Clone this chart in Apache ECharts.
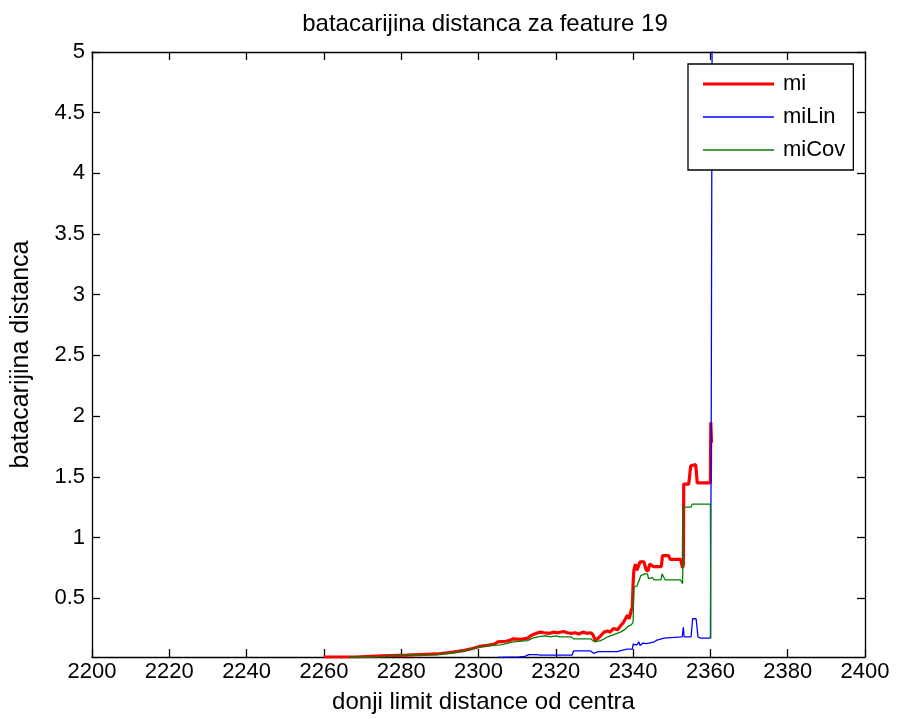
<!DOCTYPE html>
<html>
<head>
<meta charset="utf-8">
<script src="https://cdn.jsdelivr.net/npm/echarts@6/dist/echarts.min.js"></script>
<style>
  html, body { margin: 0; padding: 0; background: #fff; }
  #main { width: 897px; height: 719px; }
</style>
</head>
<body>
<div id="main"></div>
<script>
// values
const miX = [2260, 2268, 2275, 2281.5, 2282, 2289.3, 2289.6, 2293.4, 2293.7, 2296.4, 2296.7, 2298.4, 2298.7, 2300, 2300.3, 2304, 2305, 2307, 2308, 2309,
  2311, 2312.7, 2313.5, 2314, 2315, 2316, 2317, 2318.5, 2319.5, 2320.5, 2322, 2323, 2324, 2325, 2326, 2327, 2328, 2329, 2329.6, 2330.2,
  2331, 2331.6, 2332.5, 2333.4, 2334, 2335, 2336, 2336.7, 2337.5, 2338, 2338.5, 2339, 2339.5, 2339.8, 2340, 2340.2, 2340.6, 2341, 2341.5, 2341.8,
  2342.8, 2343.3, 2343.8, 2344.3, 2344.8, 2345.3, 2346.6, 2347.3, 2347.6, 2349.2, 2349.6, 2352.3, 2352.8, 2353, 2353.1, 2354.4, 2354.9, 2355.4, 2356.2, 2356.6,
  2360, 2360.1, 2360.3];
const miY = [0.015, 0.015, 0.025, 0.03, 0.04, 0.04, 0.055, 0.055, 0.07, 0.07, 0.085, 0.085, 0.10, 0.10, 0.115, 0.12, 0.14, 0.145, 0.15, 0.165,
  0.16, 0.17, 0.19, 0.205, 0.21, 0.22, 0.215, 0.21, 0.22, 0.215, 0.225, 0.215, 0.21, 0.215, 0.205, 0.22, 0.21, 0.215, 0.20, 0.155,
  0.17, 0.19, 0.22, 0.23, 0.22, 0.25, 0.24, 0.27, 0.30, 0.31, 0.36, 0.33, 0.40, 0.42, 0.62, 0.73, 0.78, 0.73, 0.73, 0.80,
  0.80, 0.74, 0.72, 0.78, 0.78, 0.76, 0.76, 0.76, 0.85, 0.85, 0.82, 0.82, 0.75, 0.78, 1.44, 1.44, 1.59, 1.60, 1.60, 1.45,
  1.45, 1.95, 1.78];

const linX = [2305, 2310.5, 2311, 2312, 2313, 2315, 2316, 2324.2, 2324.6, 2327, 2329, 2329.8, 2331, 2336, 2337, 2338.5, 2339.8, 2340, 2341, 2341.5,
  2341.8, 2342.5, 2343.5, 2344, 2345.5, 2346.2, 2348, 2352.7, 2353, 2353.2, 2355, 2355.4, 2356.3, 2356.8, 2357.5, 2360, 2360.2, 2360.5];
const linY = [0.012, 0.015, 0.03, 0.02, 0.035, 0.035, 0.03, 0.03, 0.065, 0.065, 0.065, 0.045, 0.06, 0.06, 0.07, 0.08, 0.08, 0.12, 0.115, 0.14,
  0.11, 0.13, 0.125, 0.135, 0.14, 0.155, 0.17, 0.18, 0.26, 0.18, 0.18, 0.33, 0.33, 0.18, 0.17, 0.17, 1.78, 6];

const covX = [2266.5, 2275, 2281.5, 2282, 2289.3, 2289.6, 2293.4, 2293.7, 2296.4, 2296.7, 2298.4, 2298.7, 2300.3, 2304, 2305.7, 2309, 2312.7, 2314, 2316, 2317.5,
  2318.6, 2320, 2321, 2324, 2324.6, 2329, 2329.5, 2330, 2331.6, 2333.4, 2335, 2336.7, 2338, 2338.8, 2339.5, 2340, 2340.2, 2341, 2342, 2343,
  2343.7, 2344, 2345, 2345.4, 2347.2, 2347.5, 2348, 2348.3, 2352.3, 2352.8, 2353.1, 2355, 2355.3, 2360, 2360.1];
const covY = [0.015, 0.02, 0.03, 0.035, 0.035, 0.05, 0.05, 0.065, 0.065, 0.08, 0.08, 0.095, 0.10, 0.11, 0.115, 0.14, 0.15, 0.17, 0.185, 0.19,
  0.18, 0.19, 0.18, 0.18, 0.165, 0.165, 0.16, 0.14, 0.15, 0.18, 0.20, 0.22, 0.245, 0.27, 0.28, 0.30, 0.59, 0.60, 0.685, 0.70,
  0.70, 0.66, 0.67, 0.65, 0.65, 0.70, 0.70, 0.65, 0.65, 0.62, 1.25, 1.25, 1.275, 1.275, 0.17];

const yTicks = [0.5, 1, 1.5, 2, 2.5, 3, 3.5, 4, 4.5, 5];

const zip = (xs, ys) => xs.map((x, i) => [x, ys[i]]);

const chart = echarts.init(document.getElementById('main'));
const font = 'Liberation Sans, Arial, sans-serif';

// legend keys drawn as flat bars (thick for mi, thin for the others)
const thickKey = 'path://M0,0L71,0L71,3.2L0,3.2Z';
const thinKey = 'path://M0,0L71,0L71,1.4L0,1.4Z';

const xBase = {
  type: 'value', min: 2200, max: 2400, interval: 20,
  axisLine: { show: true, onZero: false, lineStyle: { color: '#000', width: 1.3 } },
  axisTick: { show: true, inside: true, length: 8, lineStyle: { color: '#000', width: 1.3 } },
  splitLine: { show: false }
};
const yBase = {
  type: 'value', min: 0.015, max: 5,
  axisLine: { show: true, onZero: false, lineStyle: { color: '#000', width: 1.3 } },
  axisTick: { show: true, inside: true, length: 8, customValues: yTicks, lineStyle: { color: '#000', width: 1.3 } },
  splitLine: { show: false }
};

chart.setOption({
  backgroundColor: '#fff',
  animation: false,
  title: {
    text: 'batacarijina distanca za feature 19',
    left: 480, top: 7, textAlign: 'center',
    textStyle: { fontFamily: font, fontSize: 24, fontWeight: 'normal', color: '#000' }
  },
  grid: { left: 92, right: 32, top: 52, bottom: 61 },
  legend: {
    orient: 'vertical', left: 688, top: 64, symbolKeepAspect: true,
    backgroundColor: '#fff', borderColor: '#000', borderWidth: 1.3,
    padding: [9, 8, 9, 15], itemGap: 11, itemWidth: 71, itemHeight: 14,
    itemStyle: { borderWidth: 0 },
    textStyle: { fontFamily: font, fontSize: 22, color: '#000', padding: [0, 0, 0, 4] },
    data: [
      { name: 'mi', icon: thickKey },
      { name: 'miLin', icon: thinKey },
      { name: 'miCov', icon: thinKey }
    ]
  },
  xAxis: [
    Object.assign({}, xBase, {
      position: 'bottom',
      name: 'donji limit distance od centra', nameLocation: 'middle', nameGap: 33,
      nameTextStyle: { fontFamily: font, fontSize: 24, color: '#000', padding: [0, 0, 0, 10] },
      axisLabel: { show: true, margin: 4, fontFamily: font, fontSize: 22, color: '#000', formatter: v => String(v) }
    }),
    Object.assign({}, xBase, { position: 'top', axisLabel: { show: false } })
  ],
  yAxis: [
    Object.assign({}, yBase, {
      position: 'left',
      name: 'batacarijina distanca', nameLocation: 'middle', nameGap: 58,
      nameTextStyle: { fontFamily: font, fontSize: 25, color: '#000' },
      axisLabel: { show: true, margin: 7, customValues: yTicks, fontFamily: font, fontSize: 22, color: '#000' }
    }),
    Object.assign({}, yBase, { position: 'right', axisLabel: { show: false } })
  ],
  series: [
    { name: 'mi', type: 'line', data: zip(miX, miY), symbol: 'none', z: 2,
      lineStyle: { color: '#ff0000', width: 3.2 }, itemStyle: { color: '#ff0000' } },
    { name: 'miLin', type: 'line', data: zip(linX, linY), symbol: 'none', z: 3,
      lineStyle: { color: '#0000ff', width: 1.3 }, itemStyle: { color: '#0000ff' } },
    { name: 'miCov', type: 'line', data: zip(covX, covY), symbol: 'none', z: 4,
      lineStyle: { color: '#008000', width: 1.3 }, itemStyle: { color: '#008000' } }
  ]
});
</script>
</body>
</html>
